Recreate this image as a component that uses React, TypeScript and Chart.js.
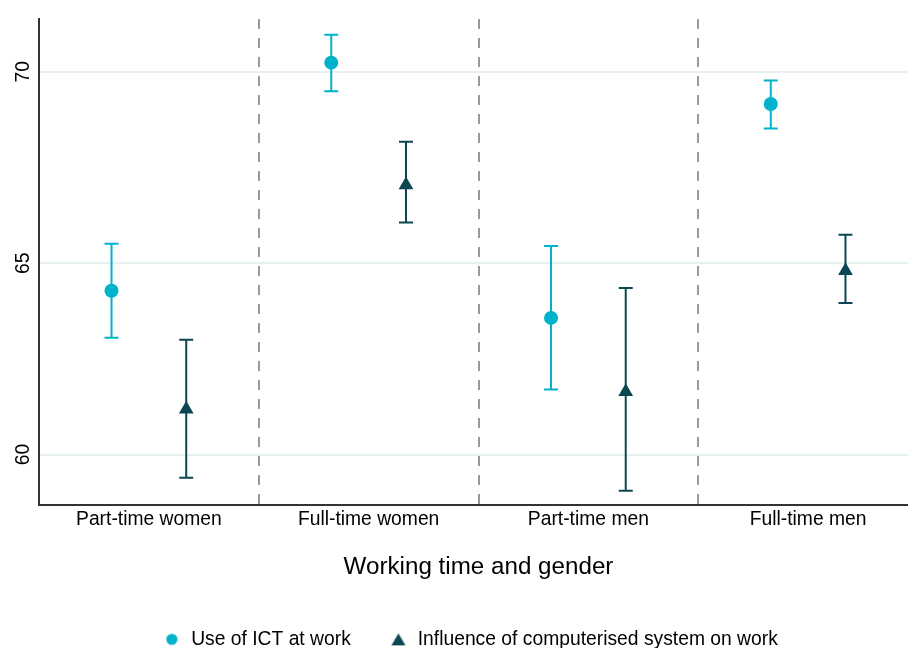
import React, { useEffect, useRef } from "react";
import { Chart, registerables } from "chart.js";

Chart.register(...registerables);

// ---- data ----
const categories = ["Part-time women", "Full-time women", "Part-time men", "Full-time men"];
const seriesNames = ["Use of ICT at work", "Influence of computerised system on work"];
const ictMean = [64.28, 70.24, 63.57, 69.16];
const ictLow = [63.05, 69.49, 61.7, 68.52];
const ictHigh = [65.51, 70.97, 65.45, 69.77];
const influenceMean = [61.18, 67.04, 61.64, 64.8];
const influenceLow = [59.39, 66.06, 59.05, 63.96];
const influenceHigh = [63.0, 68.17, 64.35, 65.74];
const yTicks = [60, 65, 70];
const yMin = 58.67;
const yMax = 71.38;
const xTitle = "Working time and gender";

// ---- styles ----
const FONT = "'Liberation Sans', Arial, sans-serif";
const ICT_COLOR = "#00b2ca";
const INF_COLOR = "#0b4652";
const GROUP_OFFSET = 0.17;
const CAP = 7;

function makeMarker(kind: "circle" | "triangle", color: string): HTMLCanvasElement {
  const c = document.createElement("canvas");
  c.width = 16;
  c.height = 16;
  const g = c.getContext("2d")!;
  g.fillStyle = color;
  g.beginPath();
  if (kind === "circle") {
    g.arc(8, 8, 5.6, 0, Math.PI * 2);
  } else {
    g.moveTo(8, 2);
    g.lineTo(15, 14);
    g.lineTo(1, 14);
    g.closePath();
  }
  g.fill();
  return c;
}

const errorBarPlugin = {
  id: "errorBars",
  beforeDatasetsDraw(chart: any) {
    const { ctx } = chart;
    const y = chart.scales.y;
    chart.data.datasets.forEach((ds: any, di: number) => {
      const meta = chart.getDatasetMeta(di);
      ctx.save();
      ctx.strokeStyle = ds.errorColor;
      ctx.lineWidth = 2;
      meta.data.forEach((pt: any, i: number) => {
        const x = pt.x;
        const yl = y.getPixelForValue(ds.errLow[i]);
        const yh = y.getPixelForValue(ds.errHigh[i]);
        ctx.beginPath();
        ctx.moveTo(x, yh);
        ctx.lineTo(x, yl);
        ctx.moveTo(x - CAP, yh);
        ctx.lineTo(x + CAP, yh);
        ctx.moveTo(x - CAP, yl);
        ctx.lineTo(x + CAP, yl);
        ctx.stroke();
      });
      ctx.restore();
    });
  },
};

const yLabelPlugin = {
  id: "yLabels",
  afterDraw(chart: any) {
    const { ctx } = chart;
    const y = chart.scales.y;
    ctx.save();
    ctx.fillStyle = "#000";
    ctx.font = `19.3px ${FONT}`;
    ctx.textAlign = "center";
    ctx.textBaseline = "middle";
    yTicks.forEach((v) => {
      const py = y.getPixelForValue(v);
      ctx.save();
      ctx.translate(y.right - 15, py);
      ctx.rotate(-Math.PI / 2);
      ctx.fillText(String(v), 0, 0);
      ctx.restore();
    });
    ctx.restore();
  },
};

export default function App() {
  const ref = useRef<HTMLCanvasElement | null>(null);

  useEffect(() => {
    if (!ref.current) return;
    Chart.defaults.font.family = FONT;
    const markers = [makeMarker("circle", ICT_COLOR), makeMarker("triangle", INF_COLOR)];
    const chart = new Chart(ref.current, {
      type: "scatter",
      data: {
        datasets: [
          {
            label: seriesNames[0],
            data: ictMean.map((v, i) => ({ x: i - GROUP_OFFSET, y: v })),
            xAxisID: "x2",
            yAxisID: "y",
            pointStyle: "circle",
            pointRadius: 7,
            pointHoverRadius: 7,
            backgroundColor: ICT_COLOR,
            borderColor: ICT_COLOR,
            borderWidth: 0,
            errLow: ictLow,
            errHigh: ictHigh,
            errorColor: ICT_COLOR,
          } as any,
          {
            label: seriesNames[1],
            data: influenceMean.map((v, i) => ({ x: i + GROUP_OFFSET, y: v })),
            xAxisID: "x2",
            yAxisID: "y",
            pointStyle: "triangle",
            pointRadius: 8.5,
            pointHoverRadius: 8.5,
            backgroundColor: INF_COLOR,
            borderColor: INF_COLOR,
            borderWidth: 0,
            errLow: influenceLow,
            errHigh: influenceHigh,
            errorColor: INF_COLOR,
          } as any,
        ],
      },
      options: {
        animation: false,
        responsive: false,
        events: [],
        layout: { padding: { top: 19, right: 0, left: 0, bottom: 0 } },
        scales: {
          x: {
            type: "category",
            labels: categories,
            offset: true,
            position: "bottom",
            grid: {
              offset: true,
              drawTicks: false,
              lineWidth: 2,
              color: (ctx: any) => (ctx.index === 0 ? "rgba(0,0,0,0)" : "#9a9a9a"),
            },
            border: { display: true, color: "#333", width: 2, dash: [10, 9] },
            ticks: { color: "#000", font: { size: 19.3 }, padding: 3 },
            title: {
              display: true,
              text: xTitle,
              color: "#000",
              font: { size: 24.2 },
              padding: { top: 18.5, bottom: 9.6 },
            },
          },
          x2: {
            type: "linear",
            display: false,
            min: -0.5,
            max: 3.5,
          },
          y: {
            type: "linear",
            min: yMin,
            max: yMax,
            afterBuildTicks: (scale: any) => {
              scale.ticks = yTicks.map((v) => ({ value: v }));
            },
            afterFit: (scale: any) => {
              scale.width = 39;
            },
            grid: { color: "#e6f1f3", lineWidth: 2, drawTicks: false },
            border: { display: true, color: "#333", width: 2 },
            ticks: { display: false },
          },
          yr: {
            type: "linear",
            position: "right",
            min: yMin,
            max: yMax,
            afterFit: (scale: any) => {
              scale.width = 22;
            },
            grid: { display: false, drawTicks: false },
            border: { display: false },
            ticks: { display: false },
          },
        },
        plugins: {
          legend: {
            position: "bottom",
            labels: {
              usePointStyle: true,
              boxHeight: 9,
              padding: 38,
              color: "#000",
              font: { size: 19.3 },
              generateLabels: (chart: any) => {
                const items = Chart.defaults.plugins.legend.labels.generateLabels(chart);
                return items.map((it: any, i: number) => ({ ...it, pointStyle: markers[i] }));
              },
            },
          },
          tooltip: { enabled: false },
          title: { display: false },
        },
      } as any,
      plugins: [errorBarPlugin, yLabelPlugin],
    });
    return () => chart.destroy();
  }, []);

  return (
    <div
      style={{
        position: "fixed",
        left: 0,
        top: 0,
        width: 908,
        height: 648,
        overflow: "hidden",
        background: "#fff",
      }}
    >
      <canvas ref={ref} width={940} height={659} style={{ display: "block" }} />
    </div>
  );
}
